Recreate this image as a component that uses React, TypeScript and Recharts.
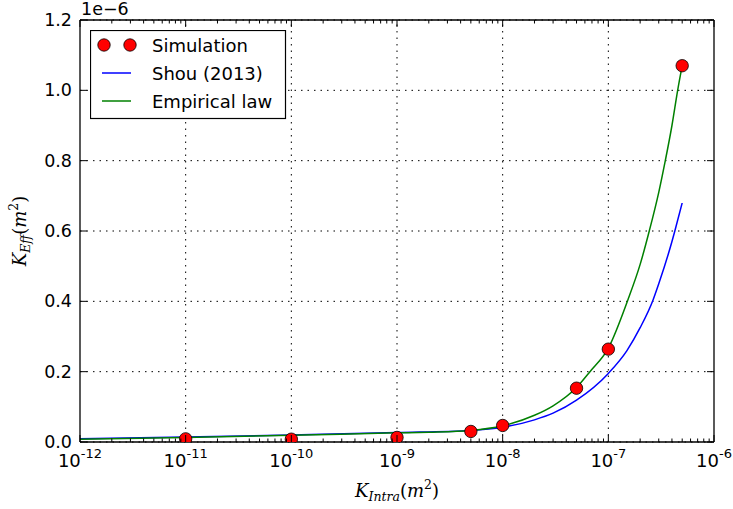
import React from 'react';
import {
  ComposedChart,
  Line,
  Scatter,
  XAxis,
  YAxis,
  CartesianGrid,
  ReferenceLine,
  Legend,
} from 'recharts';

// ---------- data (y values in units of 1e-6 m^2) ----------
const xMajorTicks = [1e-12, 1e-11, 1e-10, 1e-9, 1e-8, 1e-7, 1e-6];
const xMajorExponents = ['-12', '-11', '-10', '-9', '-8', '-7', '-6'];
const xMinorMultipliers = [2, 3, 4, 5, 6, 7, 8, 9];
const yTicks = [0, 0.2, 0.4, 0.6, 0.8, 1.0, 1.2];
const yTickLabels = ['0.0', '0.2', '0.4', '0.6', '0.8', '1.0', '1.2'];

const simulationX = [1e-11, 1e-10, 1e-9, 5e-9, 1e-8, 5e-8, 1e-7, 5e-7];
const simulationY = [0.009, 0.008, 0.013, 0.03, 0.047, 0.153, 0.264, 1.07];

const shouX = [1e-12, 1e-11, 1e-10, 1e-9, 5e-9, 1e-8, 2e-8, 3e-8, 5e-8, 1e-7, 1.5e-7, 2e-7, 2.65e-7, 3e-7, 4e-7, 4.26e-7, 5e-7];
const shouY = [0.009, 0.014, 0.02, 0.027, 0.033, 0.042, 0.063, 0.082, 0.119, 0.195, 0.26, 0.325, 0.404, 0.45, 0.57, 0.6, 0.68];

const empiricalX = [1e-12, 1e-11, 1e-10, 1e-9, 2e-9, 5e-9, 1e-8, 2e-8, 3e-8, 5e-8, 6.7e-8, 1e-7, 1.53e-7, 2e-7, 2.44e-7, 3e-7, 3.46e-7, 4e-7, 4.53e-7, 5e-7];
const empiricalY = [0.008, 0.013, 0.019, 0.026, 0.028, 0.033, 0.046, 0.076, 0.103, 0.155, 0.2, 0.267, 0.404, 0.505, 0.6, 0.71, 0.8, 0.9, 1.0, 1.07];

const simulationData = simulationX.map((x, i) => ({ x, y: simulationY[i] }));
const shouData = shouX.map((x, i) => ({ x, y: shouY[i] }));
const empiricalData = empiricalX.map((x, i) => ({ x, y: empiricalY[i] }));

const xMinorTicks: number[] = [];
xMajorTicks.slice(0, -1).forEach((d) => xMinorMultipliers.forEach((m) => xMinorTicks.push(d * m)));
const xAllTicks = [...xMajorTicks, ...xMinorTicks];

const FONT = '"DejaVu Sans", sans-serif';
const SERIF = '"DejaVu Serif", "Liberation Serif", serif';
const MAJOR = 7;
const MINOR = 3.5;

const majorIndex = (v: number) =>
  xMajorTicks.findIndex((t) => Math.abs(Math.log10(t) - Math.log10(v)) < 1e-6);

const BottomTick = (props: any) => {
  const { x, y, payload } = props;
  const idx = majorIndex(payload.value);
  const major = idx >= 0;
  return (
    <g>
      <line x1={x} x2={x} y1={y} y2={y - (major ? MAJOR : MINOR)} stroke="#000" strokeWidth={1} />
      {major && (
        <text x={x} y={y + 25} textAnchor="middle" fontFamily={FONT} fontSize={18} fill="#000">
          <tspan>10</tspan>
          <tspan dy={-9} fontSize={13}>{xMajorExponents[idx]}</tspan>
        </text>
      )}
    </g>
  );
};

const TopTick = (props: any) => {
  const { x, y, payload } = props;
  const major = majorIndex(payload.value) >= 0;
  return <line x1={x} x2={x} y1={y} y2={y + (major ? MAJOR : MINOR)} stroke="#000" strokeWidth={1} />;
};

const LeftTick = (props: any) => {
  const { x, y, index } = props;
  return (
    <g>
      <line x1={x} x2={x + MAJOR} y1={y} y2={y} stroke="#000" strokeWidth={1} />
      <text x={x - 8} y={y + 6} textAnchor="end" fontFamily={FONT} fontSize={17.5} fill="#000">
        {yTickLabels[index]}
      </text>
    </g>
  );
};

const RightTick = (props: any) => {
  const { x, y } = props;
  return <line x1={x} x2={x - MAJOR} y1={y} y2={y} stroke="#000" strokeWidth={1} />;
};

const XLabel = () => (
  <text x={397} y={497} textAnchor="middle" fontFamily={SERIF} fontStyle="italic" fontSize={18} fill="#000">
    <tspan>K</tspan>
    <tspan dy={4} fontSize={12.5}>Intra</tspan>
    <tspan dy={-4} fontStyle="normal">(</tspan>
    <tspan>m</tspan>
    <tspan dy={-8} fontSize={12.5} fontStyle="normal">2</tspan>
    <tspan dy={8} fontStyle="normal">)</tspan>
  </text>
);

const YLabel = () => (
  <g>
    <text
      x={0}
      y={0}
      transform="translate(26,231) rotate(-90)"
      textAnchor="middle"
      fontFamily={SERIF}
      fontStyle="italic"
      fontSize={18}
      fill="#000"
    >
      <tspan>K</tspan>
      <tspan dy={4} fontSize={12.5}>Eff</tspan>
      <tspan dy={-4} fontStyle="normal">(</tspan>
      <tspan>m</tspan>
      <tspan dy={-8} fontSize={12.5} fontStyle="normal">2</tspan>
      <tspan dy={8} fontStyle="normal">)</tspan>
    </text>
    <text x={81} y={15} fontFamily={FONT} fontSize={17.5} fill="#000">1e−6</text>
  </g>
);

const legendItems = [
  { name: 'Simulation', kind: 'marker', color: '#ff0000' },
  { name: 'Shou (2013)', kind: 'line', color: '#0000ff' },
  { name: 'Empirical law', kind: 'line', color: '#008000' },
];

const LegendBox = () => (
  <svg width={197} height={90} style={{ display: 'block' }}>
    <rect x={0.5} y={0.5} width={195} height={88} fill="#fff" stroke="#000" strokeWidth={1.2} />
    {legendItems.map((it, i) => {
      const cy = 15 + i * 28;
      return (
        <g key={it.name}>
          {it.kind === 'marker' ? (
            <>
              <circle cx={14} cy={cy} r={6.2} fill={it.color} stroke="#000" strokeWidth={0.8} />
              <circle cx={40} cy={cy} r={6.2} fill={it.color} stroke="#000" strokeWidth={0.8} />
            </>
          ) : (
            <line x1={12} x2={41} y1={cy} y2={cy} stroke={it.color} strokeWidth={1.5} />
          )}
          <text x={62} y={cy + 6.5} fontFamily={FONT} fontSize={18} fill="#000">
            {it.name}
          </text>
        </g>
      );
    })}
  </svg>
);

const Dot = (p: any) => (
  <circle cx={p.cx} cy={p.cy} r={6.2} fill="#ff0000" stroke="#000" strokeWidth={0.8} />
);

export default function App() {
  return (
    <div style={{ position: 'absolute', left: 0, top: 0, background: '#fff' }}>
      <ComposedChart width={733} height={509} margin={{ top: 10, right: 9, bottom: 37, left: 20 }}>
        <XAxis
          xAxisId="bottom"
          dataKey="x"
          type="number"
          scale="log"
          domain={[1e-12, 1e-6]}
          allowDataOverflow
          ticks={xAllTicks}
          interval={0}
          tickSize={0}
          tickMargin={0}
          tickLine={false}
          axisLine={{ stroke: '#000', strokeWidth: 1.3 }}
          height={30}
          tick={<BottomTick />}
          label={XLabel}
        />
        <XAxis
          xAxisId="top"
          orientation="top"
          dataKey="x"
          type="number"
          scale="log"
          domain={[1e-12, 1e-6]}
          allowDataOverflow
          ticks={xAllTicks}
          interval={0}
          tickSize={0}
          tickMargin={0}
          tickLine={false}
          axisLine={{ stroke: '#000', strokeWidth: 1.3 }}
          height={10}
          tick={<TopTick />}
        />
        <YAxis
          yAxisId="left"
          dataKey="y"
          type="number"
          domain={[0, 1.2]}
          allowDataOverflow
          ticks={yTicks}
          interval={0}
          tickSize={0}
          tickMargin={0}
          tickLine={false}
          axisLine={{ stroke: '#000', strokeWidth: 1.3 }}
          width={60}
          tick={<LeftTick />}
          label={YLabel}
        />
        <YAxis
          yAxisId="right"
          orientation="right"
          type="number"
          domain={[0, 1.2]}
          allowDataOverflow
          ticks={yTicks}
          interval={0}
          tickSize={0}
          tickMargin={0}
          tickLine={false}
          axisLine={{ stroke: '#000', strokeWidth: 1.3 }}
          width={10}
          tick={<RightTick />}
        />
        <CartesianGrid
          xAxisId="bottom"
          yAxisId="left"
          vertical={false}
          stroke="#000"
          strokeWidth={1}
          strokeDasharray="1.5 5"
        />
        {xMajorTicks.slice(1, -1).map((t) => (
          <ReferenceLine
            key={t}
            x={t}
            xAxisId="bottom"
            yAxisId="left"
            stroke="#000"
            strokeWidth={1}
            strokeDasharray="1.5 5"
          />
        ))}
        <Scatter
          name="Simulation"
          data={simulationData}
          dataKey="y"
          xAxisId="bottom"
          yAxisId="left"
          shape={Dot}
          isAnimationActive={false}
        />
        <Line
          name="Shou (2013)"
          data={shouData}
          dataKey="y"
          xAxisId="bottom"
          yAxisId="left"
          type="monotone"
          stroke="#0000ff"
          strokeWidth={1.5}
          dot={false}
          activeDot={false}
          isAnimationActive={false}
        />
        <Line
          name="Empirical law"
          data={empiricalData}
          dataKey="y"
          xAxisId="bottom"
          yAxisId="left"
          type="monotone"
          stroke="#008000"
          strokeWidth={1.5}
          dot={false}
          activeDot={false}
          isAnimationActive={false}
        />
        <Legend
          layout="vertical"
          align="center"
          verticalAlign="middle"
          content={LegendBox}
          wrapperStyle={{ position: 'absolute', left: 90, top: 30, width: 197, height: 90 }}
        />
      </ComposedChart>
    </div>
  );
}
